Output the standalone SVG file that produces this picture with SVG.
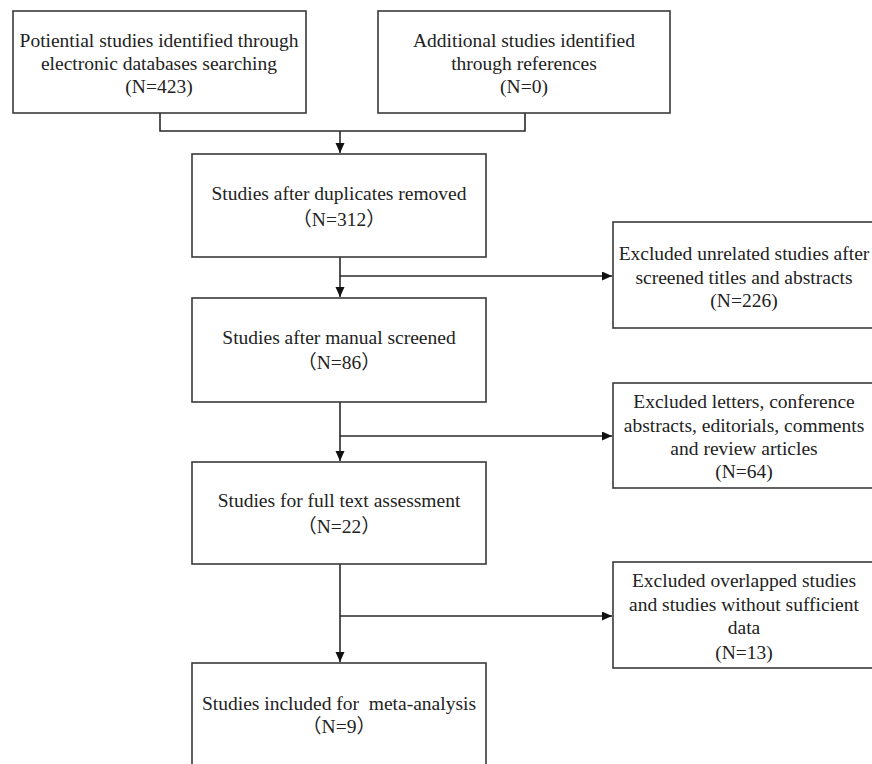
<svg xmlns="http://www.w3.org/2000/svg" width="872" height="764" viewBox="0 0 872 764">
<style>
.box{fill:#fff;stroke:#3a3a3a;stroke-width:1.6}
.t{font-family:"Liberation Serif","Times New Roman","Noto Sans CJK SC",serif;font-size:19.5px;fill:#222;text-anchor:middle;white-space:pre}
.c{fill:none;stroke:#2a2a2a;stroke-width:1.6}
</style>
<defs>
<marker id="ah" markerUnits="userSpaceOnUse" markerWidth="11" markerHeight="10" refX="10" refY="4.5" orient="auto">
<path d="M0,0 L10,4.5 L0,9 z" fill="#111"/>
</marker>
</defs>
<rect width="872" height="764" fill="#fff"/>
<g id="connectors">
<path class="c" d="M160,113 V131 H525 V113"/>
<path class="c" d="M340,131 V153" marker-end="url(#ah)"/>
<path class="c" d="M340,257 V297" marker-end="url(#ah)"/>
<path class="c" d="M340,276 H612" marker-end="url(#ah)"/>
<path class="c" d="M340,402 V461" marker-end="url(#ah)"/>
<path class="c" d="M340,436 H612" marker-end="url(#ah)"/>
<path class="c" d="M340,564 V662" marker-end="url(#ah)"/>
<path class="c" d="M340,616 H612" marker-end="url(#ah)"/>
</g>
<g id="n1">
<rect class="box" x="13" y="11" width="293" height="102"/>
<text class="t" x="159" y="47">Potiential studies identified through</text>
<text class="t" x="159" y="70">electronic databases searching</text>
<text class="t" x="159" y="93">(N=423)</text>
</g>
<g id="n2">
<rect class="box" x="378" y="11" width="292" height="102"/>
<text class="t" x="524" y="47">Additional studies identified</text>
<text class="t" x="524" y="70">through references</text>
<text class="t" x="524" y="93">(N=0)</text>
</g>
<g id="n3">
<rect class="box" x="192" y="154" width="294" height="103"/>
<text class="t" x="339" y="200">Studies after duplicates removed</text>
<text class="t" x="339" y="226">（N=312）</text>
</g>
<g id="n4">
<rect class="box" x="613" y="222" width="262" height="106"/>
<text class="t" x="744" y="260">Excluded unrelated studies after</text>
<text class="t" x="744" y="284">screened titles and abstracts</text>
<text class="t" x="744" y="307">(N=226)</text>
</g>
<g id="n5">
<rect class="box" x="192" y="298" width="294" height="104"/>
<text class="t" x="339" y="344">Studies after manual screened</text>
<text class="t" x="339" y="369">（N=86）</text>
</g>
<g id="n6">
<rect class="box" x="613" y="383" width="262" height="105"/>
<text class="t" x="744" y="408">Excluded letters, conference</text>
<text class="t" x="744" y="432">abstracts, editorials, comments</text>
<text class="t" x="744" y="455">and review articles</text>
<text class="t" x="744" y="478">(N=64)</text>
</g>
<g id="n7">
<rect class="box" x="192" y="462" width="294" height="102"/>
<text class="t" x="339" y="507">Studies for full text assessment</text>
<text class="t" x="339" y="533">（N=22）</text>
</g>
<g id="n8">
<rect class="box" x="613" y="562" width="262" height="106"/>
<text class="t" x="744" y="587">Excluded overlapped studies</text>
<text class="t" x="744" y="611">and studies without sufficient</text>
<text class="t" x="744" y="634">data</text>
<text class="t" x="744" y="659">(N=13)</text>
</g>
<g id="n9">
<rect class="box" x="192" y="663" width="294" height="110"/>
<text class="t" x="339" y="710">Studies included for  meta-analysis</text>
<text class="t" x="339" y="733">（N=9）</text>
</g>
</svg>
